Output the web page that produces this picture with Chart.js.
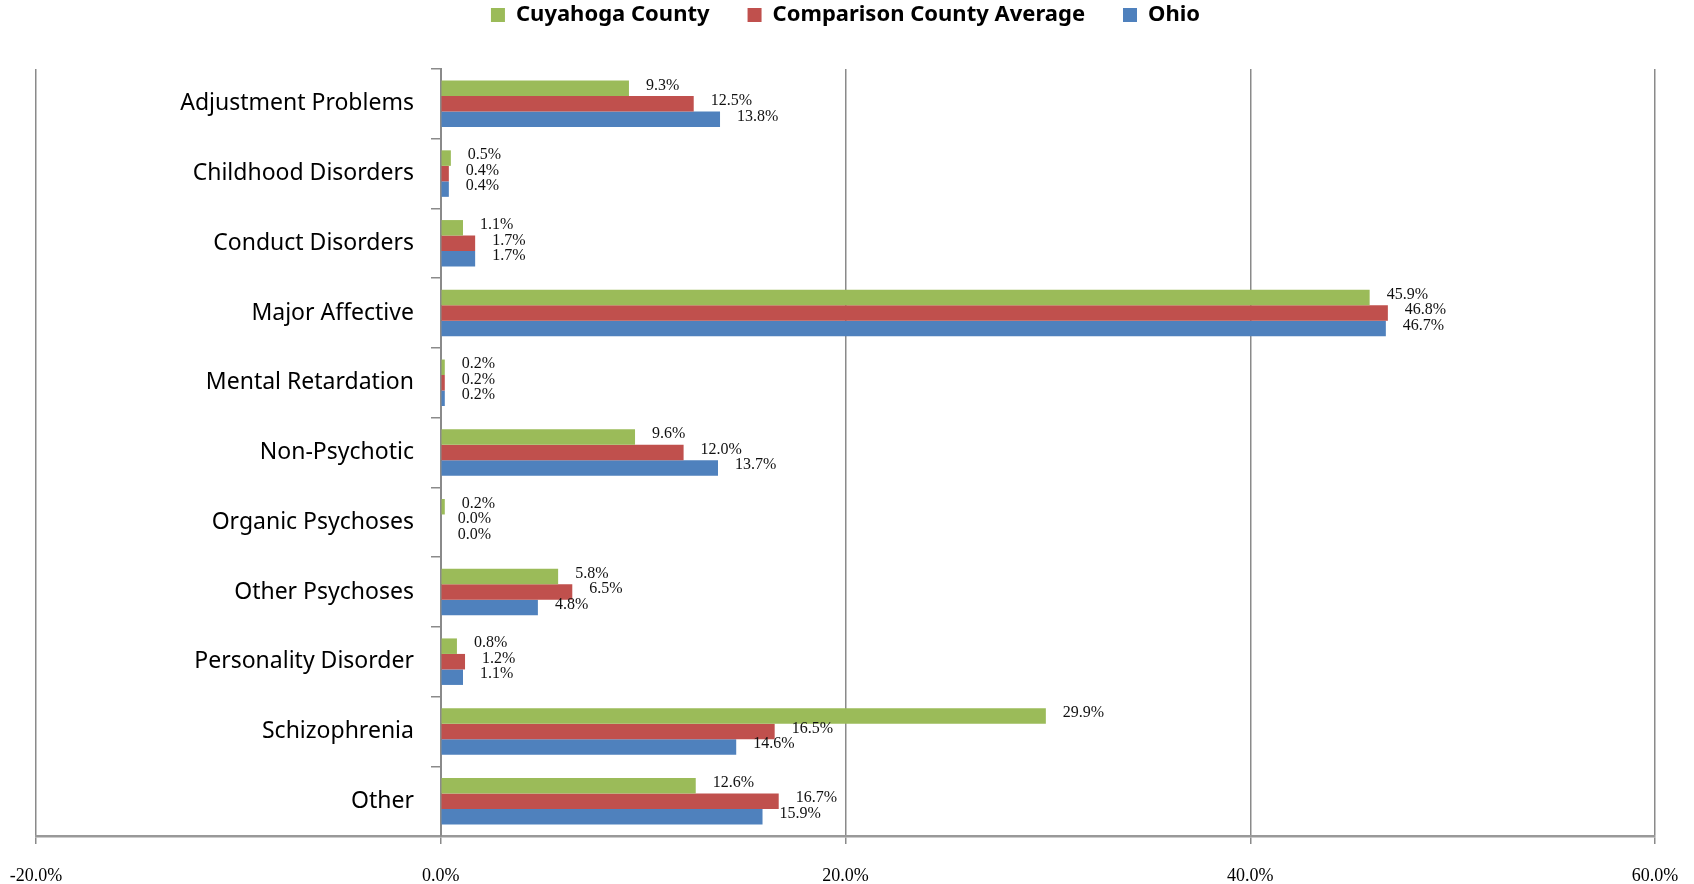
<!DOCTYPE html>
<html>
<head>
<meta charset="utf-8">
<script src="https://cdn.jsdelivr.net/npm/chart.js@4.4.1/dist/chart.umd.min.js"></script>
<style>
  html, body { margin: 0; padding: 0; background: #fff; }
  #wrap { width: 1694px; height: 884px; position: relative; }
</style>
</head>
<body>
<div id="wrap"><canvas id="chart"></canvas></div>
<script>
// categories and series (percent)
const categories = [
    'Adjustment Problems', 'Childhood Disorders', 'Conduct Disorders', 'Major Affective',
    'Mental Retardation', 'Non-Psychotic', 'Organic Psychoses', 'Other Psychoses',
    'Personality Disorder', 'Schizophrenia', 'Other'
];
const cuyahoga   = [9.3, 0.5, 1.1, 45.9, 0.2, 9.6, 0.2, 5.8, 0.8, 29.9, 12.6];
const comparison = [12.5, 0.4, 1.7, 46.8, 0.2, 12.0, 0.0, 6.5, 1.2, 16.5, 16.7];
const ohio       = [13.8, 0.4, 1.7, 46.7, 0.2, 13.7, 0.0, 4.8, 1.1, 14.6, 15.9];
const xTicks     = [-20, 0, 20, 40, 60];

const GRID = '#8a8a8a';

// value labels at the end of each bar
const barLabels = {
    id: 'barLabels',
    afterDatasetsDraw(chart) {
        const ctx = chart.ctx;
        ctx.save();
        ctx.font = '16px "Liberation Serif", serif';
        ctx.fillStyle = '#111';
        ctx.textAlign = 'left';
        ctx.textBaseline = 'middle';
        chart.data.datasets.forEach((ds, i) => {
            chart.getDatasetMeta(i).data.forEach((bar, j) => {
                ctx.fillText(ds.data[j].toFixed(1) + '%', bar.x + 17, bar.y - 3);
            });
        });
        ctx.restore();
    }
};

// legend block height fixed so the plot starts below it
const legendGap = {
    id: 'legendGap',
    beforeInit(chart) {
        const fit = chart.legend.fit;
        chart.legend.fit = function () {
            fit.bind(chart.legend)();
            this.height = 103;
        };
    }
};

new Chart(document.getElementById('chart').getContext('2d'), {
    type: 'bar',
    data: {
        labels: categories,
        datasets: [
            { label: 'Cuyahoga County',           data: cuyahoga,   backgroundColor: '#9BBB59' },
            { label: 'Comparison County Average', data: comparison, backgroundColor: '#C0504D' },
            { label: 'Ohio',                      data: ohio,       backgroundColor: '#4F81BD' }
        ]
    },
    options: {
        indexAxis: 'y',
        responsive: true, maintainAspectRatio: false, animation: false,
        devicePixelRatio: 1,
        categoryPercentage: 0.667, barPercentage: 1.0,
        layout: { padding: { left: 36, right: 39, top: -34, bottom: 0 } },
        plugins: {
            legend: {
                position: 'top',
                labels: {
                    boxWidth: 14, boxHeight: 14, padding: 38,
                    color: '#000',
                    font: { family: '"Noto Sans", sans-serif', size: 22, weight: 'bold' }
                }
            },
            tooltip: { enabled: false }
        },
        scales: {
            x: {
                min: -20, max: 60,
                afterBuildTicks: s => { s.ticks = xTicks.map(v => ({ value: v })); },
                // fixed axis height; don't let the tick padding widen the side margins
                afterFit: s => { s.height = 48; s.paddingLeft = 0; s.paddingRight = 0; },
                grid: { color: GRID, lineWidth: 1.5, tickLength: 8 },
                border: { color: '#999', width: 2.5 },
                ticks: {
                    color: '#000', padding: 21, maxRotation: 0,
                    font: { family: '"Liberation Serif", serif', size: 18 },
                    callback: v => v.toFixed(1) + '%'
                }
            },
            y: {
                position: { x: 0 },
                grid: { drawOnChartArea: false, color: GRID, lineWidth: 1.5, tickLength: 9 },
                border: { color: GRID, width: 2 },
                ticks: {
                    color: '#000',
                    font: { family: '"Noto Sans", sans-serif', size: 23 },
                    // labels sit right against the axis, so leave a gap
                    callback: function (v) { return this.getLabelForValue(v) + '\u2003\u2009'; }
                }
            }
        }
    },
    plugins: [barLabels, legendGap]
});
</script>
</body>
</html>
